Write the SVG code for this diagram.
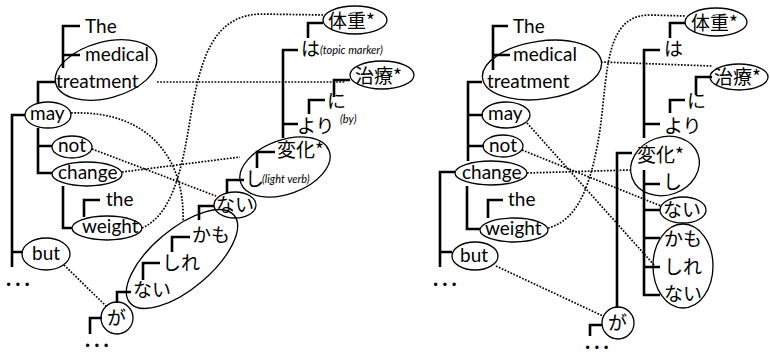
<svg xmlns="http://www.w3.org/2000/svg" width="770" height="355" viewBox="0 0 770 355">
<style>
.br{fill:none;stroke:#000;stroke-width:2.6;stroke-linecap:butt;stroke-linejoin:miter}
.el{fill:none;stroke:#000;stroke-width:1.3}
.dt{fill:none;stroke:#000;stroke-width:1.7;stroke-dasharray:1.7 1.5}
.en{font-family:Lato,"Open Sans","Liberation Sans",sans-serif;font-size:19px;fill:#000}
.ja{font-family:"Noto Sans CJK JP",sans-serif;font-size:19px;fill:#000}
.sm{font-family:Lato,"Open Sans","Liberation Sans",sans-serif;font-size:11px;font-style:italic;fill:#000}
.ell{font-family:Lato,"Liberation Sans",sans-serif;font-size:22px;font-weight:bold;letter-spacing:4px;fill:#000}
</style>
<rect width="770" height="355" fill="#fff"/>

<g id="connectors">
  <!-- left brackets -->
  <path class="br" d="M80,26 H63 V68 M63,55 H80"/>
  <path class="br" d="M55,82 H38 V103"/>
  <path class="br" d="M25,115 H12 V267 M12,252 H23"/>
  <path class="br" d="M38,128 V173 H52 M38,146 H52"/>
  <path class="br" d="M63,186 V228 H72"/>
  <path class="br" d="M100,200 H84 V217"/>
  <path class="br" d="M323,23 H308 V38"/>
  <path class="br" d="M298,50 H283 V138 M283,124 H298"/>
  <path class="br" d="M350,80 H334 V97"/>
  <path class="br" d="M325,100 H309 V114"/>
  <path class="br" d="M275,152 H257 V168"/>
  <path class="br" d="M244,180 H227 V193"/>
  <path class="br" d="M214,206 H199 V220"/>
  <path class="br" d="M190,237 H172 V252"/>
  <path class="br" d="M160,263 H143 V280"/>
  <path class="br" d="M131,292 H117 V303"/>
  <path class="br" d="M102,318 H90 V334"/>
  <!-- right brackets -->
  <path class="br" d="M508,26 H493 V70 M493,55 H510"/>
  <path class="br" d="M482,82 H468 V161 M468,115 H483 M468,146 H484"/>
  <path class="br" d="M455,172 H440 V267 M440,252 H452"/>
  <path class="br" d="M467,186 V229 H480"/>
  <path class="br" d="M503,200 H488 V218"/>
  <path class="br" d="M685,23 H670 V38"/>
  <path class="br" d="M660,50 H644 V138 M644,124 H660"/>
  <path class="br" d="M712,77 H696 V95"/>
  <path class="br" d="M685,100 H670 V113"/>
  <path class="br" d="M632,153 H617 V308"/>
  <path class="br" d="M644,170 V295 H660 M644,184 H660 M644,210 H660 M644,238 H660 M644,267 H660"/>
  <path class="br" d="M602,325 H590 V336"/>
  <!-- left dotted alignments -->
  <path class="dt" d="M157,82 L345,82"/>
  <path class="dt" d="M71,113 C150,110 185,160 183,221"/>
  <path class="dt" d="M142,228 C172,215 182,170 190,120 C200,60 212,16 260,14 L323,15"/>
  <path class="dt" d="M92,149 L216,196"/>
  <path class="dt" d="M122,172 L240,157"/>
  <path class="dt" d="M64,265 L106,306"/>
  <!-- right dotted alignments -->
  <path class="dt" d="M601,62 L712,66"/>
  <path class="dt" d="M548,228 C580,220 592,180 600,130 C608,70 605,15 650,15 L685,16"/>
  <path class="dt" d="M527,173 L630,170"/>
  <path class="dt" d="M527,123 L655,266"/>
  <path class="dt" d="M522,150 L661,206"/>
  <path class="dt" d="M496,266 L603,316"/>
</g>

<!-- LEFT: English -->
<g id="L-the"><text class="en" x="85" y="33">The</text></g>
<g id="L-medical-treatment">
  <ellipse class="el" cx="106" cy="70" rx="52" ry="28" transform="rotate(-15 106 70)"/>
  <text class="en" x="85" y="61">medical</text>
  <text class="en" x="56" y="88">treatment</text>
</g>
<g id="L-may"><ellipse class="el" cx="48" cy="115" rx="23" ry="13"/><text class="en" x="30" y="120">may</text></g>
<g id="L-not"><ellipse class="el" cx="72" cy="147" rx="20" ry="11"/><text class="en" x="58" y="152">not</text></g>
<g id="L-change"><ellipse class="el" cx="87" cy="174" rx="35" ry="12"/><text class="en" x="58" y="179">change</text></g>
<g id="L-the2"><text class="en" x="106" y="206">the</text></g>
<g id="L-weight"><ellipse class="el" cx="107" cy="228" rx="35" ry="12"/><text class="en" x="82" y="233">weight</text></g>
<g id="L-but"><ellipse class="el" cx="46" cy="254" rx="24" ry="16"/><text class="en" x="32" y="260">but</text></g>
<g id="L-dots1"><text class="ell" x="6" y="286">...</text></g>

<!-- LEFT: Japanese -->
<g id="L-taiju"><ellipse class="el" cx="355" cy="20" rx="32" ry="14"/><text class="ja" x="328" y="28">体重*</text></g>
<g id="L-ha"><text class="ja" x="301" y="56">は</text><text class="sm" x="320" y="54">(topic marker)</text></g>
<g id="L-chiryo"><ellipse class="el" cx="382" cy="75" rx="32" ry="14"/><text class="ja" x="355" y="83">治療*</text></g>
<g id="L-ni"><text class="ja" x="327" y="108">に</text></g>
<g id="L-yori"><text class="ja" x="297" y="133">より</text><text class="sm" x="340" y="123">(by)</text></g>
<g id="L-henka-shi">
  <ellipse class="el" cx="285" cy="167" rx="47" ry="27" transform="rotate(-20 285 167)"/>
  <text class="ja" x="277" y="157">変化*</text>
  <text class="ja" x="245" y="186">し</text>
  <text class="sm" x="262" y="183">(light verb)</text>
</g>
<g id="L-nai1"><ellipse class="el" cx="235" cy="205" rx="21" ry="13"/><text class="ja" x="216" y="212">ない</text></g>
<g id="L-kamoshirenai">
  <ellipse class="el" cx="182" cy="259" rx="68" ry="30" transform="rotate(-40 182 259)"/>
  <text class="ja" x="192" y="242">かも</text>
  <text class="ja" x="162" y="270">しれ</text>
  <text class="ja" x="133" y="297">ない</text>
</g>
<g id="L-ga"><circle class="el" cx="117" cy="318" r="16"/><text class="ja" x="107" y="325">が</text></g>
<g id="L-dots2"><text class="ell" x="85" y="347">...</text></g>

<!-- RIGHT: English -->
<g id="R-the"><text class="en" x="513" y="33">The</text></g>
<g id="R-medical-treatment">
  <ellipse class="el" cx="542" cy="70" rx="60" ry="29" transform="rotate(-8 542 70)"/>
  <text class="en" x="513" y="61">medical</text>
  <text class="en" x="487" y="88">treatment</text>
</g>
<g id="R-may"><ellipse class="el" cx="506" cy="115" rx="24" ry="13"/><text class="en" x="488" y="120">may</text></g>
<g id="R-not"><ellipse class="el" cx="503" cy="146" rx="20" ry="11"/><text class="en" x="489" y="152">not</text></g>
<g id="R-change"><ellipse class="el" cx="491" cy="173" rx="36" ry="12"/><text class="en" x="462" y="179">change</text></g>
<g id="R-the2"><text class="en" x="508" y="206">the</text></g>
<g id="R-weight"><ellipse class="el" cx="514" cy="230" rx="34" ry="12"/><text class="en" x="485" y="235">weight</text></g>
<g id="R-but"><ellipse class="el" cx="475" cy="256" rx="23" ry="14"/><text class="en" x="460" y="262">but</text></g>
<g id="R-dots1"><text class="ell" x="433" y="286">...</text></g>

<!-- RIGHT: Japanese -->
<g id="R-taiju"><ellipse class="el" cx="716" cy="22" rx="31" ry="14"/><text class="ja" x="691" y="30">体重*</text></g>
<g id="R-ha"><text class="ja" x="664" y="56">は</text></g>
<g id="R-chiryo"><ellipse class="el" cx="739" cy="77" rx="29" ry="13"/><text class="ja" x="714" y="84">治療*</text></g>
<g id="R-ni"><text class="ja" x="687" y="108">に</text></g>
<g id="R-yori"><text class="ja" x="664" y="133">より</text></g>
<g id="R-henka">
  <ellipse class="el" cx="665" cy="166" rx="35" ry="29" transform="rotate(-20 665 166)"/>
  <text class="ja" x="637" y="162">変化*</text>
  <text class="ja" x="663" y="189">し</text>
</g>
<g id="R-nai1"><ellipse class="el" cx="683" cy="210" rx="23" ry="13"/><text class="ja" x="663" y="217">ない</text></g>
<g id="R-kamoshirenai">
  <ellipse class="el" cx="683" cy="266" rx="30" ry="42"/>
  <text class="ja" x="664" y="246">かも</text>
  <text class="ja" x="664" y="274">しれ</text>
  <text class="ja" x="664" y="301">ない</text>
</g>
<g id="R-ga"><circle class="el" cx="618" cy="323" r="16"/><text class="ja" x="608" y="330">が</text></g>
<g id="R-dots2"><text class="ell" x="585" y="349">...</text></g>
</svg>
